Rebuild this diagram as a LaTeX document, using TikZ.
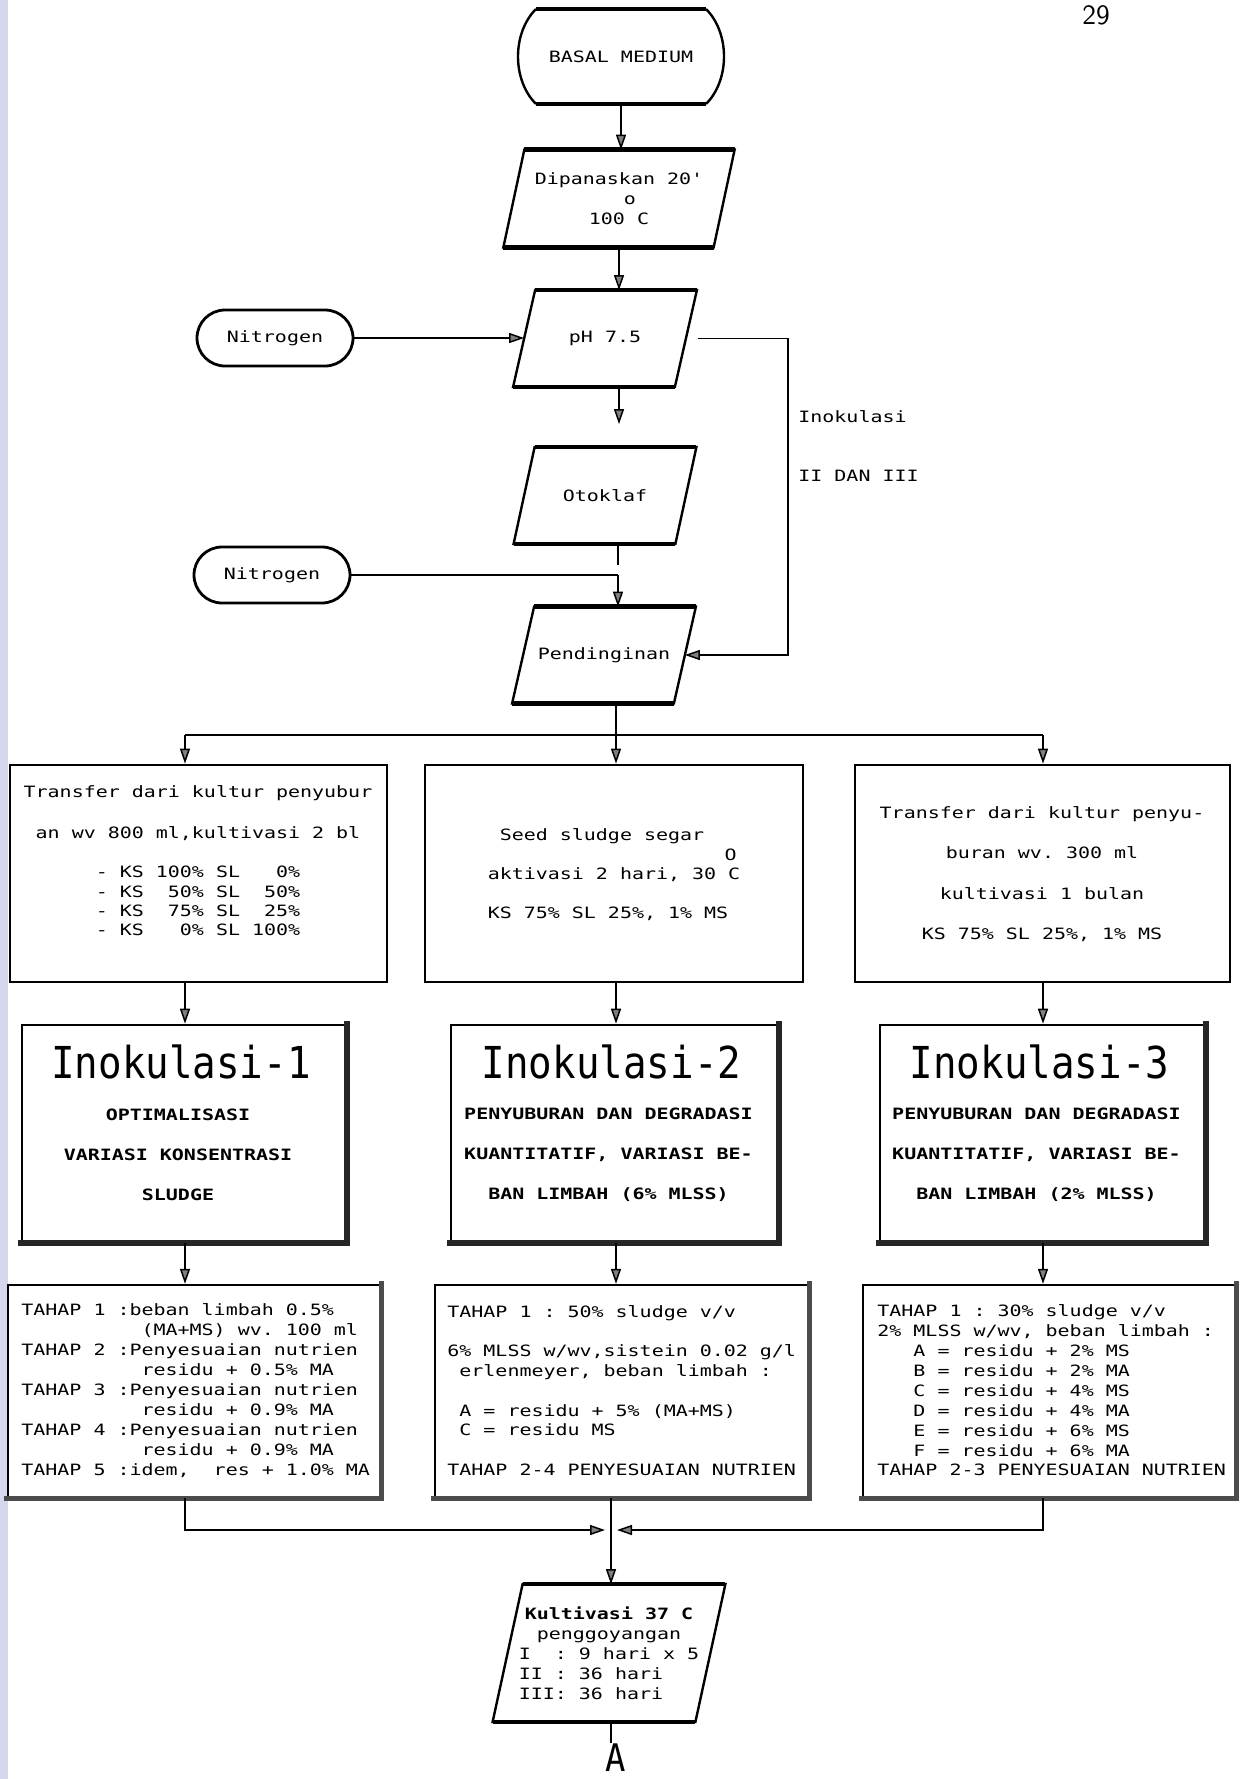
\documentclass[tikz,border=0pt]{standalone}
\usepackage{fontspec}
\usetikzlibrary{arrows.meta}
\newfontfamily\mono[FakeStretch=1.28]{DejaVu Sans Mono}
\newfontfamily\headfont[FakeStretch=0.89]{DejaVu Sans Mono}
\newlength\cw
\AtBeginDocument{\settowidth{\cw}{\mono\fontsize{7.8}{8}\selectfont 0}}
\frenchspacing
\definecolor{scanstrip}{RGB}{214,214,236}
% slanted input/output box drawn round a named node
\newcommand\drawslant[2]{%
  \draw[line width=1.2pt, line join=miter]
    ([xshift=#2]#1.north west) -- ([xshift=#2]#1.north east)
    -- ([xshift=-#2]#1.south east) -- ([xshift=-#2]#1.south west) -- cycle;
  \draw[line width=2.2pt]
    ([xshift=#2]#1.north west) -- ([xshift=#2]#1.north east)
    ([xshift=-#2]#1.south west) -- ([xshift=-#2]#1.south east);
}
% heavy right and bottom edge of a box
\newcommand\shadowedge[3]{%
  \draw[line width=#2, #3, line join=miter, line cap=rect]
    (#1.north east) -- (#1.south east) -- (#1.south west);
}
\begin{document}
\begin{tikzpicture}[x=0.5pt, y=-0.5pt,
  txt/.style={inner sep=0pt, font={\mono\fontsize{7.8}{#1}\selectfont\lineskiplimit=-5pt}},
  txt/.default=9.5pt,
  sub/.style={inner sep=0pt, align=center, font={\mono\bfseries\fontsize{7.8}{20}\selectfont}},
  head/.style={inner sep=0pt, font={\headfont\fontsize{22}{22}\selectfont}},
  pill/.style={draw, line width=1.4pt, rounded corners=14pt, minimum width=78pt,
    minimum height=28pt, inner sep=0pt, font={\mono\fontsize{7.8}{9}\selectfont}},
  slantnode/.style={txt, minimum width=80.5pt, minimum height=48pt},
  rowone/.style={draw, line width=1.4pt, minimum height=108.5pt, inner sep=0pt},
  rowtwo/.style={draw, line width=1.3pt, minimum height=108.5pt, inner sep=0pt},
  rowthree/.style={draw, line width=1.2pt, minimum height=106pt, inner sep=0pt},
  conn/.style={line width=0.75pt},
  arr/.style={line width=0.75pt, -{Triangle[length=7.5pt,width=5pt,fill=black!50]}},
]
\useasboundingbox (0,0) rectangle (1248,1779);
\fill[white] (0,0) rectangle (1248,1779);
\fill[scanstrip] (0,0) rectangle (8,1779);

% page number
\node[anchor=base, inner sep=0pt, font={\sffamily\fontsize{14}{14}\selectfont}] (pgno) at (1096,24) {29};

% start terminal
\draw[line width=1.2pt] (536,9) .. controls (512,33) and (512,80) .. (536,104);
\draw[line width=1.2pt] (706,9) .. controls (730,33) and (730,80) .. (706,104);
\draw[line width=2.2pt] (536,9) -- (706,9) (536,104) -- (706,104);
\node[txt, minimum width=103pt, minimum height=47.5pt] (basal) at (621,56.5) {BASAL MEDIUM};

% preparation steps
\node[txt=10pt, align=center, minimum width=104.75pt, minimum height=48.5pt] (dip) at (619,198.5)
  {Dipanaskan 20'\\\hspace*{11pt}o\\100 C};
\drawslant{dip}{5.25pt}
\node[slantnode] (ph) at (605,338.5) {pH 7.5};
\drawslant{ph}{5.5pt}
\node[slantnode] (oto) at (605,495.5) {Otoklaf};
\drawslant{oto}{5.25pt}
\node[slantnode] (pen) at (604,655) {Pendinginan};
\drawslant{pen}{5.5pt}

\node[pill] (nit1) at (275,338) {Nitrogen};
\node[pill] (nit2) at (272,575) {Nitrogen};

\node[txt, anchor=west] (lbl1) at (798,417) {Inokulasi};
\node[txt, anchor=west] (lbl2) at (798,476) {II DAN III};

% junction points
\coordinate (j2) at (618,575);
\coordinate (lp) at (788,340);
\coordinate (cL) at (185,735);
\coordinate (cM) at (616,735);
\coordinate (cR) at (1043,735);
\coordinate (mg) at (611,1530);

\draw[arr] (basal.south) -- (basal.south |- dip.north);
\draw[arr] (dip.south) -- (dip.south |- ph.north);
\draw[arr, shorten >=11.5pt] (ph.south -| dip.south) -- (oto.north -| dip.south);
\draw[arr] (nit1.east) -- (nit1.east -| ph.west);
\draw[conn, shorten >=5pt] (oto.south -| j2) -- (j2);
\draw[conn] (nit2.east) -- (j2);
\draw[arr] (j2) -- (j2 |- pen.north);
\draw[arr, shorten <=6pt] (ph.east) -- (ph.east -| lp) -- (lp |- pen.east) -- (pen.east);

% first row of boxes
\node[rowone, minimum width=188.5pt] (b1L) at (198.5,873.5) {};
\node[rowone, minimum width=189pt] (b1M) at (614,873.5) {};
\node[rowone, minimum width=187.5pt] (b1R) at (1042.5,873.5) {};
\node[txt=9.65pt, align=center] (t1L) at (198,861)
  {Transfer dari kultur penyubur\\[10.85pt]an wv 800 ml,kultivasi 2 bl\\[9.85pt]%
   -~KS~100\%~SL~~~0\%\\-~KS~~50\%~SL~~50\%\\-~KS~~75\%~SL~~25\%\\-~KS~~~0\%~SL~100\%};
\node[txt=9.75pt, align=left] (t1M) at (614,875)
  {\hspace*{\cw}Seed sludge segar\\\hspace*{19.7\cw}O\\aktivasi 2 hari, 30 C\\\mbox{}\\KS 75\% SL 25\%, 1\% MS};
\node[txt=20.25pt, align=center] (t1R) at (1042,874)
  {Transfer dari kultur penyu-\\buran wv. 300 ml\\kultivasi 1 bulan\\KS 75\% SL 25\%, 1\% MS};

% second row of boxes
\node[rowtwo, minimum width=162pt] (b2L) at (184,1133.5) {};
\node[rowtwo, minimum width=163.5pt] (b2M) at (614.5,1133.5) {};
\node[rowtwo, minimum width=162.5pt] (b2R) at (1042.5,1133.5) {};
\shadowedge{b2L}{3pt}{black!85}
\shadowedge{b2M}{3pt}{black!85}
\shadowedge{b2R}{3pt}{black!85}
\node[head] (h2L) at (181,1062) {Inokulasi-1};
\node[head] (h2M) at (611.5,1062) {Inokulasi-2};
\node[head] (h2R) at (1039.5,1062) {Inokulasi-3};
\node[sub] (s2L) at (178,1154.5) {OPTIMALISASI\\VARIASI KONSENTRASI\\SLUDGE};
\node[sub] (s2M) at (608.5,1154.5) {PENYUBURAN DAN DEGRADASI\\KUANTITATIF, VARIASI BE-\\BAN LIMBAH (6\% MLSS)};
\node[sub] (s2R) at (1036.5,1154.5) {PENYUBURAN DAN DEGRADASI\\KUANTITATIF, VARIASI BE-\\BAN LIMBAH (2\% MLSS)};

% third row of boxes
\node[rowthree, minimum width=186pt] (b3L) at (194,1391) {};
\node[rowthree, minimum width=186.5pt] (b3M) at (621.5,1391) {};
\node[rowthree, minimum width=186pt] (b3R) at (1049,1391) {};
\shadowedge{b3L}{2.6pt}{black!70}
\shadowedge{b3M}{2.6pt}{black!70}
\shadowedge{b3R}{2.6pt}{black!70}
\node[txt=10pt, align=left, anchor=west] (t3L) at (21,1391)
  {TAHAP 1 :beban limbah 0.5\%\\\hspace*{10\cw}(MA+MS) wv. 100 ml\\
   TAHAP 2 :Penyesuaian nutrien\\\hspace*{10\cw}residu + 0.5\% MA\\
   TAHAP 3 :Penyesuaian nutrien\\\hspace*{10\cw}residu + 0.9\% MA\\
   TAHAP 4 :Penyesuaian nutrien\\\hspace*{10\cw}residu + 0.9\% MA\\
   TAHAP 5 :idem,~~res + 1.0\% MA};
\node[txt=9.9pt, align=left, anchor=west] (t3M) at (447,1390.5)
  {TAHAP 1 : 50\% sludge v/v\\\mbox{}\\6\% MLSS w/wv,sistein 0.02 g/l\\
   \hspace*{\cw}erlenmeyer, beban limbah :\\\mbox{}\\
   \hspace*{\cw}A = residu + 5\% (MA+MS)\\\hspace*{\cw}C = residu MS\\\mbox{}\\
   TAHAP 2-4 PENYESUAIAN NUTRIEN};
\node[txt=9.95pt, align=left, anchor=west] (t3R) at (877,1390.5)
  {TAHAP 1 : 30\% sludge v/v\\2\% MLSS w/wv, beban limbah :\\
   \hspace*{3\cw}A = residu + 2\% MS\\\hspace*{3\cw}B = residu + 2\% MA\\
   \hspace*{3\cw}C = residu + 4\% MS\\\hspace*{3\cw}D = residu + 4\% MA\\
   \hspace*{3\cw}E = residu + 6\% MS\\\hspace*{3\cw}F = residu + 6\% MA\\
   TAHAP 2-3 PENYESUAIAN NUTRIEN};

% cultivation step and connector label
\node[txt=10pt, align=left, minimum width=101pt, minimum height=68.5pt] (kul) at (609,1653)
  {\makebox[15\cw][c]{\bfseries Kultivasi 37 C}\\\makebox[15\cw][c]{penggoyangan}\\
   I~~:~9~hari~x~5\\II~:~36~hari\\III:~36~hari};
\drawslant{kul}{7.5pt}
\node[anchor=north, inner sep=0pt, font={\headfont\fontsize{19}{19}\selectfont}] (lblA) at (616,1743) {A};

% distribution to the three inoculation lines
\draw[conn] (pen.south -| cM) -- (cM);
\draw[conn] (cL) -- (cR);
\draw[arr] (cL) -- (cL |- b1L.north);
\draw[arr] (cM) -- (cM |- b1M.north);
\draw[arr] (cR) -- (cR |- b1R.north);
\draw[arr] (b1L.south -| cL) -- (cL |- b2L.north);
\draw[arr] (b1M.south -| cM) -- (cM |- b2M.north);
\draw[arr] (b1R.south -| cR) -- (cR |- b2R.north);
\draw[arr] (b2L.south -| cL) -- (cL |- b3L.north);
\draw[arr] (b2M.south -| cM) -- (cM |- b3M.north);
\draw[arr] (b2R.south -| cR) -- (cR |- b3R.north);

% merging into cultivation
\draw[arr, shorten >=3pt] (b3L.south -| cL) |- (mg);
\draw[arr, shorten >=3pt] (b3R.south -| cR) |- (mg);
\draw[arr] (b3M.south -| mg) -- (mg |- kul.north);
\draw[conn] (kul.south -| mg) -- (mg |- lblA.north);
\end{tikzpicture}
\end{document}
